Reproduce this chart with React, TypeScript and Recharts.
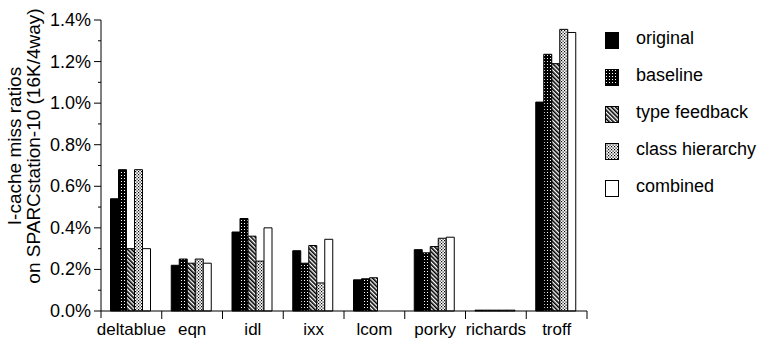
import React from "react";
import { BarChart, Bar, XAxis, YAxis } from "recharts";

// benchmark programs along the x axis
const categories = ["deltablue", "eqn", "idl", "ixx", "lcom", "porky", "richards", "troff"];

// I-cache miss ratios in percent
const original = [0.54, 0.22, 0.38, 0.29, 0.15, 0.295, 0.004, 1.005];
const baseline = [0.68, 0.25, 0.445, 0.23, 0.155, 0.28, 0.004, 1.235];
const typeFeedback = [0.3, 0.23, 0.36, 0.315, 0.16, 0.31, 0.004, 1.19];
const classHierarchy = [0.68, 0.25, 0.24, 0.135, 0, 0.35, 0.004, 1.355];
const combined = [0.3, 0.23, 0.4, 0.345, 0, 0.355, 0.004, 1.34];

// every 0.1 gets a tick, every 0.2 gets a label
const yTicks = [0, 0.1, 0.2, 0.3, 0.4, 0.5, 0.6, 0.7, 0.8, 0.9, 1.0, 1.1, 1.2, 1.3, 1.4];

const series = [
  { key: "original", name: "original", fill: "#000" },
  { key: "baseline", name: "baseline", fill: "url(#p-base)" },
  { key: "typeFeedback", name: "type feedback", fill: "url(#p-type)" },
  { key: "classHierarchy", name: "class hierarchy", fill: "url(#p-class)" },
  { key: "combined", name: "combined", fill: "#fff" },
];

const data = categories.map((c, i) => ({
  name: c,
  original: original[i],
  baseline: baseline[i],
  typeFeedback: typeFeedback[i],
  classHierarchy: classHierarchy[i],
  combined: combined[i],
}));

const W = 767;
const H = 342;
const M = { top: 20, right: 180, bottom: 0, left: 0 };
const Y_W = 101;
const X_H = 31;
const FONT = "'Liberation Sans', Arial, Helvetica, sans-serif";
const band = (W - M.right - M.left - Y_W) / categories.length;

function XTick(props: any) {
  const { x, y, payload, index } = props;
  return (
    <g>
      {index === 0 && <line x1={x - band / 2} x2={x - band / 2} y1={y} y2={y + 7} stroke="#000" />}
      <line x1={x + band / 2} x2={x + band / 2} y1={y} y2={y + 8} stroke="#000" />
      <text x={x} y={y + 24} textAnchor="middle" fontSize={17} fontFamily={FONT} fill="#000">
        {payload.value}
      </text>
    </g>
  );
}

function YTick(props: any) {
  const { x, y, payload } = props;
  const major = Math.round(payload.value * 10) % 2 === 0;
  return (
    <g>
      <line x1={x - (major ? 7 : 3)} x2={x} y1={y} y2={y} stroke="#000" />
      {major && (
        <text x={x - 10} y={y + 6} textAnchor="end" fontSize={18} fontFamily={FONT} fill="#000">
          {payload.value.toFixed(1) + "%"}
        </text>
      )}
    </g>
  );
}

function YLabel() {
  const cy = 146;
  return (
    <g fontSize={19} fontFamily={FONT} fill="#000">
      <text transform={`translate(21, ${cy}) rotate(-90)`} textAnchor="middle">
        I-cache miss ratios
      </text>
      <text transform={`translate(40, ${cy}) rotate(-90)`} textAnchor="middle">
        on SPARCstation-10 (16K/4way)
      </text>
    </g>
  );
}

function Swatch({ fill }: { fill: string }) {
  return (
    <svg width={14} height={17} style={{ display: "block" }}>
      <rect x={0.5} y={0.5} width={13} height={16} fill={fill} stroke="#000" />
    </svg>
  );
}

export default function App() {
  return (
    <div style={{ position: "absolute", left: 0, top: 0, width: W, height: H, background: "#fff" }}>
      <BarChart width={W} height={H} data={data} margin={M} barCategoryGap={9.5} barGap={0}>
        <defs>
          <pattern id="p-base" width="3" height="3" patternUnits="userSpaceOnUse">
            <rect width="3" height="3" fill="#000" />
            <rect x="1" y="1" width="1" height="1" fill="#fff" />
          </pattern>
          <pattern id="p-type" width="3" height="3" patternUnits="userSpaceOnUse" patternTransform="rotate(-45)">
            <rect width="3" height="3" fill="#fff" />
            <rect width="1.6" height="3" fill="#000" />
          </pattern>
          <pattern id="p-class" width="3" height="3" patternUnits="userSpaceOnUse">
            <rect width="3" height="3" fill="#fff" />
            <rect x="0" y="0" width="1.2" height="1.2" fill="#000" />
            <rect x="1.5" y="1.5" width="1.2" height="1.2" fill="#000" />
          </pattern>
        </defs>
        <XAxis
          dataKey="name"
          height={X_H}
          axisLine={{ stroke: "#000" }}
          tickLine={false}
          tickSize={0}
          tickMargin={0}
          interval={0}
          tick={<XTick />}
        />
        <YAxis
          width={Y_W}
          domain={[0, 1.4]}
          ticks={yTicks}
          interval={0}
          axisLine={{ stroke: "#000" }}
          tickLine={false}
          tickSize={0}
          tickMargin={0}
          tick={<YTick />}
          label={{ content: <YLabel /> }}
        />
        {series.map((s) => (
          <Bar
            key={s.key}
            dataKey={s.key}
            name={s.name}
            fill={s.fill}
            stroke="#000"
            strokeWidth={1}
            isAnimationActive={false}
          />
        ))}
      </BarChart>
      <div style={{ position: "absolute", left: 605, top: 21.5, fontFamily: FONT, fontSize: 18 }}>
        {series.map((s) => (
          <div key={s.key} style={{ display: "flex", alignItems: "center", height: 37 }}>
            <Swatch fill={s.fill} />
            <span style={{ marginLeft: 17, lineHeight: "18px", position: "relative", top: -2 }}>{s.name}</span>
          </div>
        ))}
      </div>
    </div>
  );
}
